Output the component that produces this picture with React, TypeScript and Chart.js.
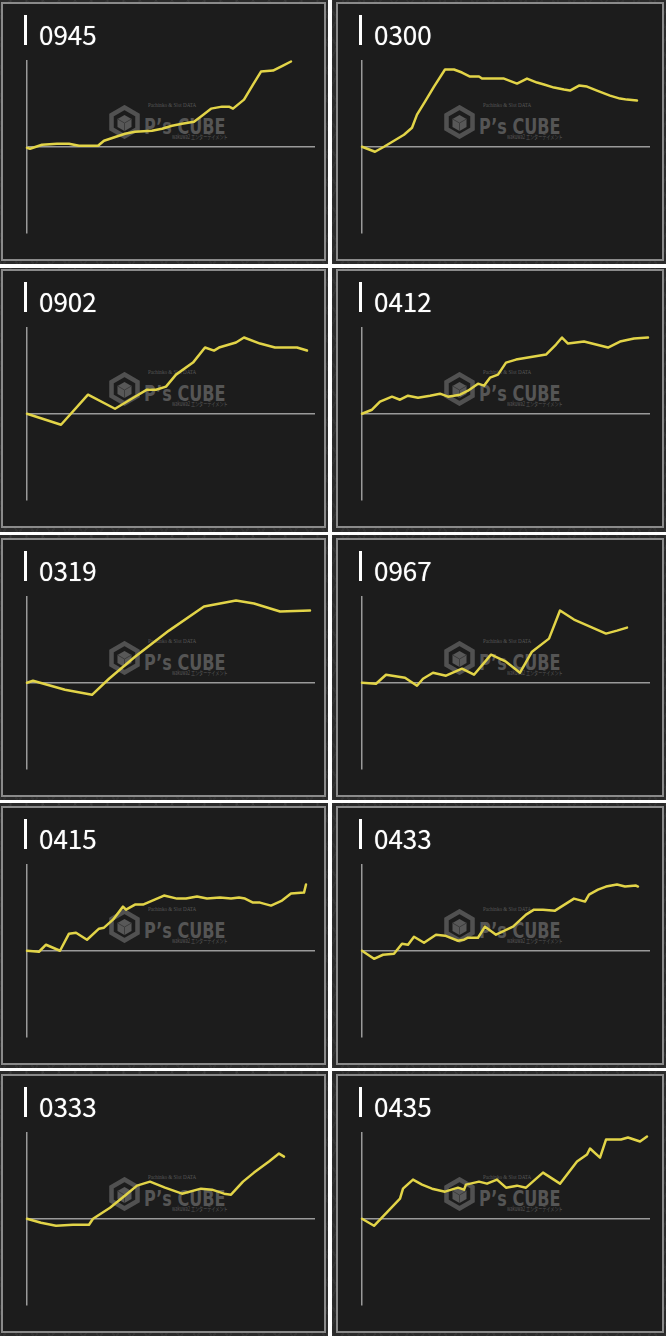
import React, { useEffect, useRef } from 'react';
import { Chart, registerables } from 'chart.js';

Chart.register(...registerables);

// ---- data (x: progress along the run, y: balance; both in chart units) ----
const machineIds = ['0945', '0300', '0902', '0412', '0319', '0967', '0415', '0433', '0333', '0435'];

const x0945 = [0, 3, 15, 30, 42, 52, 71, 77, 86, 98, 108, 125, 135, 145, 155, 167, 175, 184, 195, 202, 206, 217, 226, 234, 246, 256, 264];
const y0945 = [-1, -2, 2, 3, 3, 1, 1, 6, 9, 13, 15, 16, 18, 21, 23, 25, 31, 38, 40, 40, 38, 47, 62, 75, 76, 81, 85];

const x0300 = [0, 13, 22, 32, 42, 50, 55, 63, 72, 83, 92, 100, 108, 117, 120, 132, 142, 155, 165, 175, 182, 192, 202, 208, 217, 225, 235, 248, 258, 265, 275];
const y0300 = [0, -5, 0, 6, 12, 19, 32, 45, 60, 77, 77, 74, 70, 70, 68, 68, 68, 63, 68, 64, 62, 59, 57, 56, 61, 60, 56, 51, 48, 47, 46];

const x0902 = [0, 34, 61, 88, 108, 120, 129, 139, 149, 166, 178, 187, 192, 209, 217, 233, 248, 270, 280];
const y0902 = [0, -11, 19, 5, 17, 24, 24, 27, 39, 51, 66, 63, 66, 71, 76, 70, 66, 66, 63];

const x0412 = [0, 10, 18, 30, 38, 46, 56, 68, 78, 86, 98, 106, 116, 122, 128, 136, 144, 154, 172, 184, 194, 200, 206, 222, 234, 246, 258, 272, 286];
const y0412 = [0, 4, 12, 17, 14, 18, 16, 18, 20, 17, 19, 23, 30, 28, 36, 39, 51, 54, 57, 59, 69, 76, 70, 72, 69, 66, 72, 75, 76];

const x0319 = [0, 6, 38, 65, 82, 108, 142, 177, 209, 227, 253, 283];
const y0319 = [0, 2, -7, -12, 4, 26, 52, 76, 82, 79, 71, 72];

const x0967 = [0, 14, 24, 43, 55, 61, 71, 84, 100, 112, 129, 144, 158, 170, 187, 198, 212, 244, 255, 265];
const y0967 = [0, -1, 8, 5, -3, 4, 10, 7, 14, 8, 28, 21, 10, 31, 44, 72, 63, 49, 52, 55];

const x0415 = [0, 12, 19, 33, 42, 49, 60, 72, 77, 86, 96, 99, 108, 116, 137, 150, 159, 170, 180, 193, 204, 212, 218, 226, 233, 244, 255, 264, 277, 279];
const y0415 = [0, -1, 6, 0, 17, 18, 11, 22, 23, 31, 44, 41, 46, 46, 55, 52, 52, 54, 52, 53, 52, 53, 52, 48, 48, 45, 50, 57, 58, 66];

const x0433 = [0, 12, 21, 32, 40, 46, 52, 62, 74, 83, 96, 102, 106, 116, 123, 134, 151, 164, 172, 181, 193, 212, 223, 227, 236, 244, 255, 263, 274, 276];
const y0433 = [0, -8, -4, -3, 7, 6, 14, 8, 16, 15, 10, 11, 13, 13, 24, 16, 24, 36, 41, 41, 40, 52, 49, 56, 61, 64, 66, 64, 65, 64];

const x0333 = [0, 14, 29, 46, 62, 66, 83, 99, 110, 123, 138, 155, 174, 185, 197, 204, 216, 227, 242, 252, 257];
const y0333 = [0, -4, -7, -6, -6, 0, 11, 24, 33, 37, 31, 25, 30, 29, 25, 24, 37, 46, 57, 65, 62];

const x0435 = [0, 12, 38, 41, 51, 60, 70, 83, 96, 102, 104, 117, 125, 135, 144, 155, 164, 181, 198, 215, 225, 228, 238, 244, 259, 266, 278, 285];
const y0435 = [0, -7, 20, 30, 39, 34, 30, 27, 31, 29, 34, 37, 35, 39, 31, 33, 31, 46, 35, 57, 64, 70, 61, 79, 79, 81, 77, 82];

const seriesX = [x0945, x0300, x0902, x0412, x0319, x0967, x0415, x0433, x0333, x0435];
const seriesY = [y0945, y0300, y0902, y0412, y0319, y0967, y0415, y0433, y0333, y0435];

const X_MAX = 288;
const Y_LIM = 86;

// ---- layout / style ----
const COLS = [
  { cellX: 0, cellW: 328, panelX: 1, panelW: 325 },
  { cellX: 332, cellW: 334, panelX: 336, panelW: 328 },
];
const ROWS = [
  { cellY: 0, cellH: 264, panelY: 2 },
  { cellY: 268, cellH: 264, panelY: 269 },
  { cellY: 535, cellH: 265, panelY: 538 },
  { cellY: 803, cellH: 265, panelY: 806 },
  { cellY: 1071, cellH: 265, panelY: 1074 },
];
const PANEL_H = 259;
const AREA_LEFT = 26;
const AREA_TOP = 58.5;
const AREA_W = 288;
const AREA_H = 172.5;

const LINE = '#e2d448';
const AXIS = '#9a9a9a';
const PANEL_BG = '#1c1c1c';
const CELL_BG = '#2a2a2a';
const WM = '#515151';

function Watermark() {
  return (
    <>
      <svg style={{ position: 'absolute', left: 107, top: 103, width: 33, height: 34 }} viewBox="0 0 33 34">
        <polygon points="16.5,2.5 29.5,10 29.5,24 16.5,31.5 3.5,24 3.5,10" fill="none" stroke={WM} strokeWidth="4.5" />
        <polygon points="16.5,10 23.5,14 23.5,22 16.5,26 9.5,22 9.5,14" fill="#585858" />
        <polyline points="9.5,14 16.5,18 23.5,14" stroke="#3c3c3c" fill="none" strokeWidth="1" />
        <line x1="16.5" y1="18" x2="16.5" y2="26" stroke="#3c3c3c" strokeWidth="1" />
      </svg>
      <div style={{ position: 'absolute', left: 147, top: 100, fontFamily: '"Liberation Serif", serif', fontSize: 6, lineHeight: '7px', color: '#575757', whiteSpace: 'nowrap', transform: 'scaleX(0.85)', transformOrigin: 'left top' }}>
        Pachinko &amp; Slot DATA
      </div>
      <div style={{ position: 'absolute', left: 143, top: 114.4, fontFamily: '"DejaVu Sans", sans-serif', fontWeight: 700, fontSize: 22, lineHeight: '22px', color: '#555555', whiteSpace: 'nowrap', transform: 'scaleX(0.73)', transformOrigin: 'left top' }}>
        P’s CUBE
      </div>
      <div style={{ position: 'absolute', left: 171, top: 131, fontFamily: '"Noto Sans CJK JP", sans-serif', fontSize: 6, lineHeight: '7px', color: '#575757', whiteSpace: 'nowrap', transform: 'scaleX(0.68)', transformOrigin: 'left top' }}>
        wakuwa2 エンターテイメント
      </div>
    </>
  );
}

function Panel({ id, xs, ys, left, top, width, height }: { id: string; xs: number[]; ys: number[]; left: number; top: number; width: number; height: number }) {
  const ref = useRef<HTMLCanvasElement>(null);
  useEffect(() => {
    const chart = new Chart(ref.current as HTMLCanvasElement, {
      type: 'line',
      data: {
        datasets: [
          {
            data: xs.map((x, i) => ({ x, y: ys[i] })),
            borderColor: LINE,
            borderWidth: 2.5,
            pointRadius: 0,
            tension: 0,
            borderJoinStyle: 'round',
            borderCapStyle: 'round',
            clip: false as any,
          },
        ],
      },
      options: {
        animation: false,
        responsive: false,
        events: [],
        layout: {
          padding: {
            left: AREA_LEFT,
            top: AREA_TOP,
            right: width - AREA_LEFT - AREA_W,
            bottom: height - AREA_TOP - AREA_H,
          },
        },
        plugins: { legend: { display: false }, tooltip: { enabled: false } },
        scales: {
          x: { type: 'linear', display: false, min: 0, max: X_MAX },
          y: {
            type: 'linear',
            min: -Y_LIM,
            max: Y_LIM,
            ticks: { display: false, stepSize: Y_LIM },
            grid: {
              drawTicks: false,
              lineWidth: 1.5,
              color: (c: any) => (c.tick && c.tick.value === 0 ? AXIS : 'rgba(0,0,0,0)'),
            },
            border: { display: true, color: AXIS, width: 1.5 },
          },
        },
      },
    });
    return () => chart.destroy();
  }, []);

  return (
    <div style={{ position: 'absolute', left, top, width, height, background: PANEL_BG, boxShadow: 'inset 0 0 0 2px #8a8a8a', overflow: 'hidden' }}>
      <Watermark />
      <canvas ref={ref} width={width} height={height} style={{ position: 'absolute', left: 0, top: 0, width, height }} />
      <div style={{ position: 'absolute', left: 23, top: 13, width: 3, height: 30, background: '#ffffff' }} />
      <div style={{ position: 'absolute', left: 38, top: 19, fontFamily: '"Noto Sans CJK JP", "Noto Sans", sans-serif', fontSize: 26, lineHeight: '26px', color: '#ffffff', textShadow: '0 0 1px rgba(255,255,255,0.6)', whiteSpace: 'nowrap' }}>
        {id}
      </div>
    </div>
  );
}

export default function App() {
  const cells: React.ReactNode[] = [];
  const panels: React.ReactNode[] = [];
  machineIds.forEach((id, i) => {
    const r = ROWS[Math.floor(i / 2)];
    const c = COLS[i % 2];
    cells.push(
      <div key={'c' + id} style={{ position: 'absolute', left: c.cellX, top: r.cellY, width: c.cellW, height: r.cellH, background: CELL_BG, backgroundImage: 'repeating-linear-gradient(60deg, rgba(255,255,255,0.035) 0 2px, transparent 2px 14px), repeating-linear-gradient(-60deg, rgba(255,255,255,0.035) 0 2px, transparent 2px 14px)' }} />
    );
    panels.push(
      <Panel key={'p' + id} id={id} xs={seriesX[i]} ys={seriesY[i]} left={c.panelX} top={r.panelY} width={c.panelW} height={PANEL_H} />
    );
  });
  return (
    <div style={{ position: 'absolute', left: 0, top: 0, width: 666, height: 1336, background: '#ffffff', overflow: 'hidden' }}>
      {cells}
      {panels}
    </div>
  );
}
